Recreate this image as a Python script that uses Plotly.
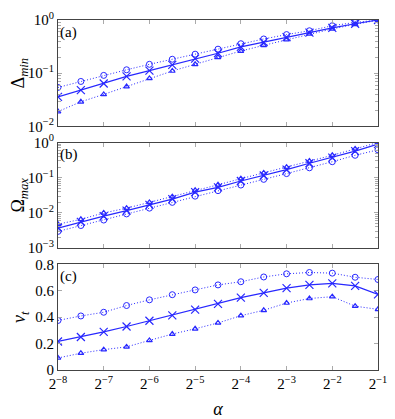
import plotly.graph_objects as go
from plotly.subplots import make_subplots

# alpha = 2^-8 ... 2^-1 in half-power steps
alpha_exp = [-8, -7.5, -7, -6.5, -6, -5.5, -5, -4.5, -4, -3.5, -3, -2.5, -2, -1.5, -1]
alpha = [2 ** e for e in alpha_exp]

# (a) Delta_min
delta_circ = [0.054, 0.070, 0.091, 0.116, 0.147, 0.183, 0.228, 0.283, 0.358, 0.44, 0.532, 0.628, 0.78, 0.90, 1.0]
delta_x = [0.036, 0.048, 0.064, 0.087, 0.112, 0.143, 0.188, 0.237, 0.312, 0.383, 0.477, 0.578, 0.71, 0.85, 1.0]
delta_tri = [0.019, 0.029, 0.040, 0.056, 0.080, 0.110, 0.147, 0.199, 0.261, 0.334, 0.428, 0.547, 0.68, 0.83, 0.99]

# (b) Omega_max
omega_circ = [0.0030, 0.0044, 0.0063, 0.0094, 0.0137, 0.020, 0.030, 0.043, 0.062, 0.090, 0.131, 0.191, 0.285, 0.433, 0.62]
omega_x = [0.0037, 0.0056, 0.0081, 0.0116, 0.0169, 0.0246, 0.039, 0.053, 0.081, 0.116, 0.169, 0.257, 0.374, 0.568, 0.90]
omega_tri = [0.0048, 0.0066, 0.0100, 0.0137, 0.020, 0.029, 0.044, 0.063, 0.094, 0.137, 0.20, 0.297, 0.433, 0.66, 1.0]

# (c) v_t
vt_circ = [0.375, 0.409, 0.437, 0.488, 0.531, 0.570, 0.606, 0.644, 0.668, 0.704, 0.728, 0.738, 0.733, 0.702, 0.685]
vt_x = [0.216, 0.250, 0.288, 0.329, 0.373, 0.413, 0.457, 0.500, 0.548, 0.584, 0.620, 0.644, 0.656, 0.637, 0.572]
vt_tri = [0.091, 0.127, 0.154, 0.175, 0.224, 0.272, 0.312, 0.356, 0.411, 0.452, 0.507, 0.541, 0.555, 0.483, 0.459]

x_tick_exp = [-8, -7, -6, -5, -4, -3, -2, -1]

BLUE = "rgb(40,40,255)"
FONT = "Liberation Serif"
DOT = "1px,2px"
TICKC = "#aaaaaa"

fig = make_subplots(rows=3, cols=1, vertical_spacing=0.047)

panels = [
    (1, delta_circ, delta_x, delta_tri),
    (2, omega_circ, omega_x, omega_tri),
    (3, vt_circ, vt_x, vt_tri),
]
for row, yc, yx, yt in panels:
    fig.add_trace(go.Scatter(
        x=alpha, y=yc, mode="lines+markers",
        line=dict(color=BLUE, width=1, dash=DOT),
        marker=dict(symbol="circle-open", size=6, color=BLUE, line=dict(width=1)),
        showlegend=False,
    ), row=row, col=1)
    fig.add_trace(go.Scatter(
        x=alpha, y=yx, mode="lines+markers",
        line=dict(color=BLUE, width=1.2),
        marker=dict(symbol="x-thin-open", size=8, color=BLUE, line=dict(width=1.2, color=BLUE)),
        showlegend=False,
    ), row=row, col=1)
    fig.add_trace(go.Scatter(
        x=alpha, y=yt, mode="lines+markers",
        line=dict(color=BLUE, width=1, dash=DOT),
        marker=dict(symbol="triangle-up-open", size=5, color=BLUE, line=dict(width=1.2)),
        showlegend=False,
    ), row=row, col=1)

x_common = dict(
    type="log",
    range=[-8 * 0.30103, -1 * 0.30103],
    tickvals=[2 ** e for e in x_tick_exp],
    ticks="inside", ticklen=4, tickcolor=TICKC,
    showline=True, linecolor="#444444", linewidth=1, mirror="allticks",
    showgrid=False, zeroline=False, ticklabeloverflow="allow",
)
for r in (1, 2, 3):
    fig.update_xaxes(row=r, col=1, **x_common)
fig.update_xaxes(row=1, col=1, showticklabels=False)
fig.update_xaxes(row=2, col=1, showticklabels=False)
fig.update_xaxes(
    row=3, col=1,
    ticktext=[f"2<sup>−{-e}</sup>" for e in x_tick_exp],
    title=dict(text="<i>α</i>", standoff=12),
)


def minor_log(lo, hi):
    vals = []
    for d in range(lo, hi):
        vals += [k * 10 ** d for k in range(2, 10)]
    return vals


log_y = dict(
    type="log",
    ticks="inside", ticklen=4, tickcolor=TICKC,
    showline=True, linecolor="#444444", linewidth=1, mirror="allticks",
    showgrid=False, zeroline=False,
)
fig.update_yaxes(
    row=1, col=1, range=[-2, 0],
    tickvals=[1e-2, 1e-1, 1], ticktext=["10<sup>−2</sup>", "10<sup>−1</sup>", "10<sup>0</sup>"],
    title=dict(text="Δ<sub><i>min</i></sub>", standoff=4),
    minor=dict(ticks="inside", ticklen=3, tickcolor=TICKC, tickmode="array",
               tickvals=minor_log(-2, 0), showgrid=False),
    **log_y,
)
fig.update_yaxes(
    row=2, col=1, range=[-3, 0],
    tickvals=[1e-3, 1e-2, 1e-1, 1],
    ticktext=["10<sup>−3</sup>", "10<sup>−2</sup>", "10<sup>−1</sup>", "10<sup>0</sup>"],
    title=dict(text="Ω<sub><i>max</i></sub>", standoff=4),
    minor=dict(ticks="inside", ticklen=3, tickcolor=TICKC, tickmode="array",
               tickvals=minor_log(-3, 0), showgrid=False),
    **log_y,
)
fig.update_yaxes(
    row=3, col=1, range=[0, 0.8],
    tickvals=[0, 0.2, 0.4, 0.6, 0.8], ticktext=["0", "0.2", "0.4", "0.6", "0.8"],
    ticks="inside", ticklen=4, tickcolor=TICKC,
    showline=True, linecolor="#444444", linewidth=1, mirror="allticks",
    showgrid=False, zeroline=False,
    title=dict(text="<i>v<sub>t</sub></i>", standoff=4),
)

# domains to match the reference layout
fig.update_layout(
    yaxis=dict(domain=[0.696, 1.0]),
    yaxis2=dict(domain=[0.348, 0.650]),
    yaxis3=dict(domain=[0.0, 0.302]),
)

for xr, yr, lab in (("x", "y", "(a)"), ("x2", "y2", "(b)"), ("x3", "y3", "(c)")):
    fig.add_annotation(
        text=lab, xref=f"{xr} domain", yref=f"{yr} domain",
        x=0.0, y=0.985, xanchor="left", yanchor="top",
        showarrow=False, font=dict(size=15, family=FONT, color="black"),
    )

# the page body adds an 8px margin, so the figure is a bit smaller than the window
fig.update_layout(
    width=387, height=411,
    margin=dict(l=50, r=17, t=2, b=41),
    paper_bgcolor="white", plot_bgcolor="white",
    font=dict(family=FONT, size=15, color="black"),
)

fig.write_html("out.html")
